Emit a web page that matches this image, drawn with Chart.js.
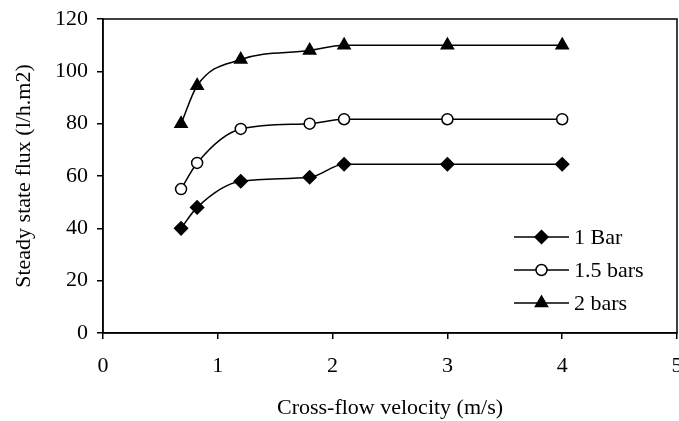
<!DOCTYPE html>
<html><head><meta charset="utf-8">
<script src="https://cdn.jsdelivr.net/npm/chart.js@4"></script>
<style>html,body{margin:0;padding:0;background:#fff}#wrap{width:679px;height:421px}</style>
</head><body><div id="wrap"><canvas id="c" width="679" height="421"></canvas></div>
<script>
const velocity = [0.68, 0.82, 1.2, 1.8, 2.1, 3, 4];
const bar1 = [40, 48, 58, 59.5, 64.5, 64.5, 64.5];
const bar15 = [55, 65, 78, 80, 81.7, 81.7, 81.7];
const bar2 = [80, 94.5, 104.5, 108, 110, 110, 110];
const seriesLabels = ['1 Bar', '1.5 bars', '2 bars'];
const xTitle = 'Cross-flow velocity (m/s)';
const yTitle = 'Steady state flux (l/h.m2)';

const FONT = 'Liberation Serif';
const FS = 22;
const pts = arr => velocity.map((v, i) => ({x: v, y: arr[i]}));
const common = {borderColor:'#000', borderWidth:1.5, cubicInterpolationMode:'monotone', pointBorderWidth:1.5, pointBorderColor:'#000'};
const zeroPad = () => ({left:0, right:0, top:0, bottom:0});

const boxPlugin = {
  id:'box',
  afterDraw(chart){
    const {ctx, chartArea:a} = chart;
    ctx.save();
    ctx.strokeStyle = '#000'; ctx.lineWidth = 1.5;
    ctx.strokeRect(a.left, a.top, a.right - a.left, a.bottom - a.top);
    const ys = [237, 270, 303];
    ctx.font = FS + 'px "' + FONT + '"';
    ctx.textBaseline = 'middle'; ctx.textAlign = 'left';
    chart.data.datasets.forEach((ds, i) => {
      const y = ys[i];
      ctx.beginPath(); ctx.moveTo(514, y); ctx.lineTo(569, y);
      ctx.lineWidth = 1.5; ctx.strokeStyle = '#000'; ctx.stroke();
      ctx.fillStyle = ds.pointBackgroundColor; ctx.strokeStyle = '#000';
      Chart.helpers.drawPoint(ctx, {pointStyle: ds.pointStyle, radius: ds.pointRadius, borderWidth: 1.5, rotation: 0}, 541.5, y);
      ctx.fillStyle = '#000';
      ctx.fillText(ds.label, 574, y + 1);
    });
    ctx.restore();
  }
};

new Chart(document.getElementById('c'), {
  type:'line',
  data:{datasets:[
    Object.assign({label:seriesLabels[0], data:pts(bar1), pointStyle:'rectRot', pointRadius:6.5, pointBackgroundColor:'#000'}, common),
    Object.assign({label:seriesLabels[1], data:pts(bar15), pointStyle:'circle', pointRadius:5.5, pointBackgroundColor:'#fff'}, common),
    Object.assign({label:seriesLabels[2], data:pts(bar2), pointStyle:'triangle', pointRadius:7, pointBackgroundColor:'#000'}, common)
  ]},
  options:{
    responsive:false, animation:false, devicePixelRatio:1,
    layout:{autoPadding:false, padding:{top:19, right:2, left:0, bottom:0}},
    plugins:{legend:{display:false}, tooltip:{enabled:false}},
    scales:{
      x:{type:'linear', min:0, max:5,
        ticks:{stepSize:1, color:'#000', font:{family:FONT, size:FS}, padding:14, maxRotation:0},
        grid:{drawOnChartArea:false, drawTicks:true, tickLength:6, color:'#000', lineWidth:1.5},
        border:{display:true, color:'#000', width:1.5},
        title:{display:true, text:xTitle, color:'#000', font:{family:FONT, size:FS}, padding:{top:0,bottom:0}},
        afterFit(s){ s.height = 88; s.paddingLeft = 0; s.paddingRight = 0; s.getPadding = zeroPad; }
      },
      y:{min:0, max:120,
        ticks:{stepSize:20, color:'#000', font:{family:FONT, size:FS}, padding:9},
        grid:{drawOnChartArea:false, drawTicks:true, tickLength:6, color:'#000', lineWidth:1.5},
        border:{display:true, color:'#000', width:1.5},
        title:{display:true, text:yTitle, color:'#000', font:{family:FONT, size:FS}, padding:{top:11,bottom:0}},
        afterFit(s){ s.width = 103; s.paddingTop = 0; s.paddingBottom = 0; s.getPadding = zeroPad; }
      }
    }
  },
  plugins:[boxPlugin]
});
</script></body></html>
